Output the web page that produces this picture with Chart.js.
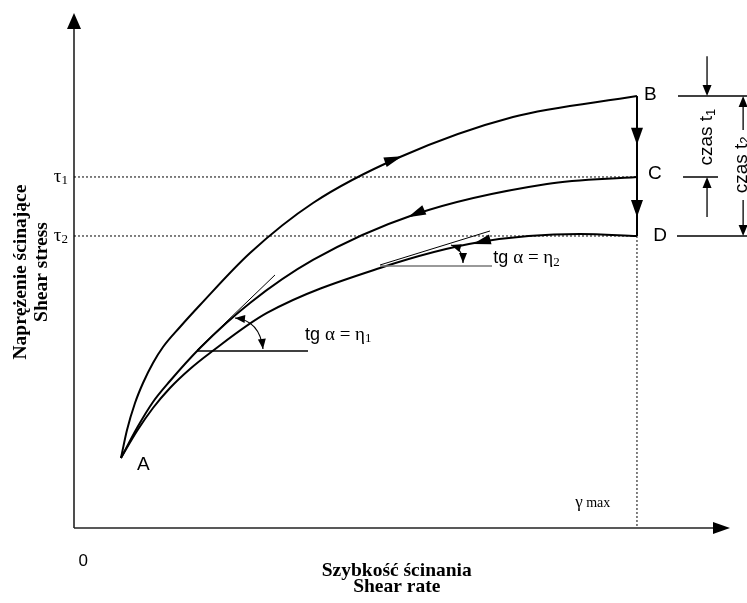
<!DOCTYPE html>
<html>
<head>
<meta charset="utf-8">
<script src="https://cdn.jsdelivr.net/npm/chart.js@4/dist/chart.umd.min.js"></script>
<style>
  html, body { margin: 0; background: #fff; }
  #wrap { width: 747px; height: 603px; }
</style>
</head>
<body>
<div id="wrap"><canvas id="c" width="747" height="603"></canvas></div>
<script>
// values, both axes run 0..100 (arbitrary units)
const upX  = [7.16, 8.08, 9.30, 10.52, 12.04, 13.57, 16.16, 19.21, 26.83, 36.43, 49.70, 66.92, 85.82];
const upY  = [13.59, 19.03, 24.27, 28.16, 32.04, 35.15, 39.03, 43.30, 53.40, 63.11, 72.04, 79.81, 83.88];
const midX = [7.16, 9.60, 12.04, 14.63, 19.21, 26.83, 36.43, 51.68, 72.10, 85.82];
const midY = [13.59, 19.42, 24.47, 28.54, 34.95, 43.69, 52.04, 60.78, 66.80, 68.16];
const lowX = [7.16, 9.60, 12.04, 14.63, 17.68, 20.73, 29.42, 46.65, 61.89, 77.13, 85.82];
const lowY = [13.59, 18.83, 23.30, 27.18, 30.87, 33.98, 41.75, 50.49, 55.53, 57.09, 56.70];

const gammaMax = 85.82;
const tauB = upY[upY.length - 1];
const tau1 = midY[midY.length - 1];
const tau2 = lowY[lowY.length - 1];

const pointLabels = ['A', 'B', 'C', 'D'];
const tauLabels = ['τ', 'τ'];

const toPts = (xs, ys) => xs.map((x, i) => ({ x: x, y: ys[i] }));

function arrowHead(ctx, x, y, ang, len, half) {
    ctx.beginPath();
    ctx.moveTo(x, y);
    ctx.lineTo(x - len * Math.cos(ang) - half * Math.sin(ang), y - len * Math.sin(ang) + half * Math.cos(ang));
    ctx.lineTo(x - len * Math.cos(ang) + half * Math.sin(ang), y - len * Math.sin(ang) - half * Math.cos(ang));
    ctx.closePath();
    ctx.fill();
}

function line(ctx, x1, y1, x2, y2) {
    ctx.beginPath();
    ctx.moveTo(x1, y1);
    ctx.lineTo(x2, y2);
    ctx.stroke();
}

// draws runs of [text, font, dy] one after another
function runs(ctx, parts, x, y, align) {
    let total = 0;
    parts.forEach(p => { ctx.font = p[1]; total += ctx.measureText(p[0]).width; });
    let cx = align === 'center' ? x - total / 2 : x;
    ctx.textAlign = 'left';
    parts.forEach(p => {
        ctx.font = p[1];
        ctx.fillText(p[0], cx, y + (p[2] || 0));
        cx += ctx.measureText(p[0]).width;
    });
}

const SANS = '"Liberation Sans", Arial, sans-serif';
const SERIF = '"Liberation Serif", "Times New Roman", serif';

const diagram = {
    id: 'diagram',
    afterDatasetsDraw(chart) {
        const ctx = chart.ctx;
        const X = v => chart.scales.x.getPixelForValue(v);
        const Y = v => chart.scales.y.getPixelForValue(v);
        ctx.save();
        ctx.fillStyle = '#000';
        ctx.strokeStyle = '#000';

        // axes
        ctx.lineWidth = 1.6;
        ctx.strokeStyle = '#222';
        line(ctx, X(0), Y(0), X(0), Y(97));
        line(ctx, X(0), Y(0), X(97.5), Y(0));
        ctx.fillStyle = '#000';
        arrowHead(ctx, X(0), Y(100), -Math.PI / 2, 16, 7);
        arrowHead(ctx, X(100), Y(0), 0, 17, 6);

        // dotted guides
        ctx.strokeStyle = '#000';
        ctx.lineWidth = 1;
        ctx.setLineDash([2, 2]);
        line(ctx, X(0), Y(tau1), X(gammaMax), Y(tau1));
        line(ctx, X(0), Y(tau2), X(gammaMax), Y(tau2));
        line(ctx, X(gammaMax), Y(tau2), X(gammaMax), Y(0));
        ctx.setLineDash([]);

        // B -> C -> D drop
        ctx.lineWidth = 2;
        line(ctx, X(gammaMax), Y(tauB), X(gammaMax), Y(tau2));
        arrowHead(ctx, X(gammaMax), Y(74.4), Math.PI / 2, 17, 6);
        arrowHead(ctx, X(gammaMax), Y(60.4), Math.PI / 2, 17, 6);

        // direction arrows on the curves
        [[upX, upY, 50.0, 1], [midX, midY, 50.9, -1], [lowX, lowY, 60.8, -1]].forEach(a => {
            const xs = a[0], ys = a[1], at = a[2];
            let i = 0;
            while (i < xs.length - 2 && xs[i + 1] < at) i++;
            const t = (at - xs[i]) / (xs[i + 1] - xs[i]);
            const yv = ys[i] + t * (ys[i + 1] - ys[i]);
            let ang = Math.atan2(Y(ys[i + 1]) - Y(ys[i]), X(xs[i + 1]) - X(xs[i]));
            if (a[3] < 0) ang += Math.PI;
            arrowHead(ctx, X(at), Y(yv), ang, 18, 5);
        });

        // tangent angles
        function angle(tan, hor, arc, hColor) {
            ctx.lineWidth = 1;
            ctx.strokeStyle = '#000';
            line(ctx, X(tan[0]), Y(tan[1]), X(tan[2]), Y(tan[3]));
            ctx.lineWidth = 1.6;
            ctx.strokeStyle = hColor;
            line(ctx, X(hor[0]), Y(hor[2]), X(hor[1]), Y(hor[2]));
            ctx.strokeStyle = '#000';
            ctx.lineWidth = 1.2;
            ctx.beginPath();
            ctx.moveTo(X(arc[0]), Y(arc[1]));
            ctx.quadraticCurveTo(X(arc[2]), Y(arc[3]), X(arc[4]), Y(arc[5]));
            ctx.stroke();
            const a1 = Math.atan2(Y(arc[1]) - Y(arc[3]), X(arc[0]) - X(arc[2]));
            const a2 = Math.atan2(Y(arc[5]) - Y(arc[3]), X(arc[4]) - X(arc[2]));
            arrowHead(ctx, X(arc[0]), Y(arc[1]), a1, 10, 4);
            arrowHead(ctx, X(arc[4]), Y(arc[5]), a2, 10, 4);
        }
        angle([18.75, 34.56, 30.64, 49.13], [18.75, 35.67, 34.37],
              [24.54, 40.78, 28.3, 40.3, 28.81, 34.76], '#000');
        angle([46.65, 51.07, 63.41, 57.67], [46.65, 63.72, 50.87],
              [57.47, 54.95, 59.3, 54.2, 59.3, 51.46], '#777');

        ctx.fillStyle = '#000';
        ctx.textBaseline = 'middle';
        runs(ctx, [['tg ', '18px ' + SANS], ['α = η', '19px ' + SERIF], ['1', '13px ' + SERIF, 4]], X(35.2), Y(37.5));
        runs(ctx, [['tg ', '18px ' + SANS], ['α = η', '19px ' + SERIF], ['2', '13px ' + SERIF, 4]], X(63.9), Y(52.4));

        // point labels
        ctx.font = '19px ' + SANS;
        ctx.textAlign = 'left';
        ctx.fillText(pointLabels[0], X(9.6), Y(12.2));
        ctx.fillText(pointLabels[1], X(86.9), Y(84.1));
        ctx.fillText(pointLabels[2], X(87.5), Y(68.7));
        ctx.fillText(pointLabels[3], X(88.3), Y(56.7));

        // tick-like labels
        runs(ctx, [[tauLabels[0], '19px ' + SERIF], ['1', '13px ' + SERIF, 4]], X(-2.0), Y(tau1), 'center');
        runs(ctx, [[tauLabels[1], '19px ' + SERIF], ['2', '13px ' + SERIF, 4]], X(-2.0), Y(tau2), 'center');
        ctx.font = '17px ' + SANS;
        ctx.textAlign = 'center';
        ctx.fillText('0', X(1.4), Y(-6.4));
        runs(ctx, [['γ', '17px ' + SERIF], [' max', '14px ' + SERIF]], X(76.4), Y(4.85));

        // czas t1 / czas t2 dimensions
        ctx.strokeStyle = '#000';
        ctx.lineWidth = 1.3;
        line(ctx, X(92.07), Y(tauB), X(102.6), Y(tauB));
        line(ctx, X(92.84), Y(tau1), X(98.17), Y(tau1));
        line(ctx, X(91.92), Y(tau2), X(102.6), Y(tau2));
        line(ctx, X(96.5), Y(91.6), X(96.5), Y(tauB) - 8);
        arrowHead(ctx, X(96.5), Y(tauB), Math.PI / 2, 11, 4.5);
        line(ctx, X(96.5), Y(60.4), X(96.5), Y(tau1) + 8);
        arrowHead(ctx, X(96.5), Y(tau1), -Math.PI / 2, 11, 4.5);
        line(ctx, X(102.0), Y(tauB) + 8, X(102.0), Y(77.3));
        line(ctx, X(102.0), Y(63.7), X(102.0), Y(tau2) - 8);
        arrowHead(ctx, X(102.0), Y(tauB), -Math.PI / 2, 11, 4.5);
        arrowHead(ctx, X(102.0), Y(tau2), Math.PI / 2, 11, 4.5);

        ctx.save();
        ctx.translate(X(96.5), Y(75.9));
        ctx.rotate(-Math.PI / 2);
        runs(ctx, [['czas t', '19px ' + SANS], ['1', '13px ' + SANS, 4]], 0, 0, 'center');
        ctx.restore();
        ctx.save();
        ctx.translate(X(101.8), Y(70.5));
        ctx.rotate(-Math.PI / 2);
        runs(ctx, [['czas t', '19px ' + SANS], ['2', '13px ' + SANS, 4]], 0, 0, 'center');
        ctx.restore();

        // axis titles
        ctx.font = 'bold 19.5px ' + SERIF;
        ctx.textAlign = 'center';
        ctx.fillText('Szybkość ścinania', X(49.2), Y(-8.35));
        ctx.fillText('Shear rate', X(49.2), Y(-11.46));
        ctx.save();
        ctx.translate(X(-8.1), Y(49.7));
        ctx.rotate(-Math.PI / 2);
        ctx.fillText('Naprężenie ścinające', 0, 0);
        ctx.restore();
        ctx.save();
        ctx.translate(X(-4.9), Y(49.7));
        ctx.rotate(-Math.PI / 2);
        ctx.fillText('Shear stress', 0, 0);
        ctx.restore();

        ctx.restore();
    }
};

const curveStyle = {
    showLine: true,
    borderColor: '#000',
    borderWidth: 2,
    pointRadius: 0,
    fill: false,
    cubicInterpolationMode: 'monotone'
};

new Chart(document.getElementById('c'), {
    type: 'scatter',
    data: {
        datasets: [
            Object.assign({ label: 'A-B', data: toPts(upX, upY) }, curveStyle),
            Object.assign({ label: 'C-A', data: toPts(midX, midY) }, curveStyle),
            Object.assign({ label: 'D-A', data: toPts(lowX, lowY) }, curveStyle)
        ]
    },
    options: {
        responsive: false,
        animation: false,
        devicePixelRatio: 1,
        layout: { padding: { left: 74, right: 17, top: 13, bottom: 75 } },
        scales: {
            x: { type: 'linear', min: 0, max: 100, display: false },
            y: { type: 'linear', min: 0, max: 100, display: false }
        },
        plugins: {
            legend: { display: false },
            tooltip: { enabled: false }
        }
    },
    plugins: [diagram]
});
</script>
</body>
</html>
